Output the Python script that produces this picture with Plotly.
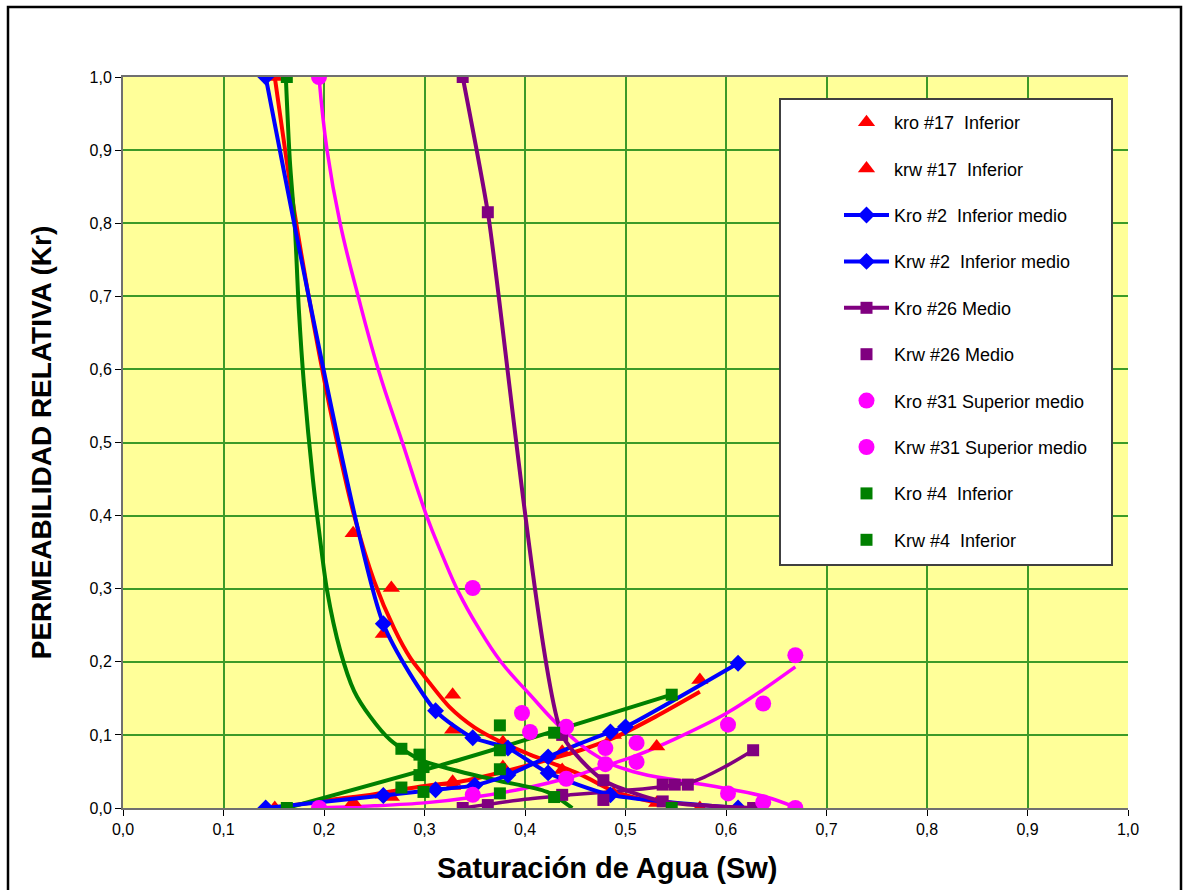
import plotly.graph_objects as go

# ---------------- data ----------------
# #17 Inferior (red triangles, markers only + trendlines)
kro17_sw = [0.151, 0.229, 0.259, 0.267, 0.328, 0.328, 0.378, 0.437, 0.488, 0.531, 0.574]
kro17_kr = [1.000, 0.376, 0.238, 0.301, 0.155, 0.107, 0.090, 0.052, 0.020, 0.007, 0.000]
krw17_sw = [0.151, 0.229, 0.259, 0.267, 0.328, 0.328, 0.378, 0.437, 0.488, 0.531, 0.574]
krw17_kr = [0.000, 0.008, 0.018, 0.015, 0.036, 0.030, 0.056, 0.077, 0.100, 0.084, 0.175]
kro17_fit_sw = [0.151, 0.17, 0.19, 0.21, 0.23, 0.25, 0.27, 0.286, 0.30, 0.325, 0.35, 0.378, 0.405, 0.455, 0.49, 0.531]
kro17_fit_kr = [1.000, 0.82, 0.66, 0.52, 0.40, 0.31, 0.245, 0.205, 0.18, 0.138, 0.11, 0.089, 0.073, 0.046, 0.022, 0.007]
krw17_fit_sw = [0.151, 0.20, 0.25, 0.30, 0.335, 0.38, 0.42, 0.455, 0.49, 0.53, 0.574]
krw17_fit_kr = [0.000, 0.010, 0.019, 0.030, 0.036, 0.050, 0.065, 0.079, 0.097, 0.125, 0.159]

# #2 Inferior medio (blue diamonds, smoothed lines)
kro2_sw = [0.142, 0.259, 0.311, 0.348, 0.383, 0.423, 0.485, 0.612]
kro2_kr = [1.000, 0.252, 0.133, 0.096, 0.082, 0.048, 0.018, 0.000]
krw2_sw = [0.142, 0.259, 0.311, 0.350, 0.383, 0.423, 0.485, 0.500, 0.612]
krw2_kr = [0.000, 0.017, 0.025, 0.031, 0.045, 0.070, 0.104, 0.111, 0.198]

# #26 Medio (purple squares)
kro26_sw = [0.338, 0.363, 0.437, 0.478, 0.537, 0.627]
kro26_kr = [1.000, 0.815, 0.100, 0.038, 0.009, 0.000]
krw26_sw = [0.338, 0.363, 0.437, 0.478, 0.537, 0.549, 0.562, 0.627]
krw26_kr = [0.000, 0.004, 0.018, 0.011, 0.032, 0.032, 0.032, 0.079]
krw26_fit_sw = [0.338, 0.40, 0.445, 0.50, 0.537, 0.571, 0.601, 0.627]
krw26_fit_kr = [0.000, 0.012, 0.018, 0.024, 0.029, 0.038, 0.058, 0.079]

# #31 Superior medio (magenta circles + trendlines)
kro31_sw = [0.195, 0.348, 0.397, 0.405, 0.441, 0.480, 0.511, 0.602, 0.637, 0.669]
kro31_kr = [1.000, 0.301, 0.130, 0.104, 0.111, 0.082, 0.063, 0.020, 0.008, 0.000]
krw31_sw = [0.195, 0.348, 0.441, 0.480, 0.511, 0.602, 0.637, 0.669]
krw31_kr = [0.000, 0.018, 0.040, 0.060, 0.089, 0.114, 0.143, 0.209]
kro31_fit_sw = [0.195, 0.203, 0.216, 0.234, 0.254, 0.278, 0.302, 0.318, 0.334, 0.353, 0.376, 0.405, 0.435, 0.475, 0.507, 0.561, 0.607, 0.640, 0.667]
kro31_fit_kr = [1.000, 0.900, 0.800, 0.700, 0.600, 0.500, 0.400, 0.345, 0.295, 0.248, 0.200, 0.155, 0.111, 0.068, 0.050, 0.036, 0.025, 0.015, 0.002]
krw31_fit_sw = [0.195, 0.25, 0.30, 0.35, 0.40, 0.445, 0.485, 0.511, 0.55, 0.601, 0.635, 0.669]
krw31_fit_kr = [0.000, 0.003, 0.007, 0.015, 0.027, 0.042, 0.060, 0.072, 0.095, 0.130, 0.160, 0.193]

# #4 Inferior (green squares + trendlines)
kro4_sw = [0.163, 0.277, 0.295, 0.299, 0.375, 0.375, 0.429, 0.546]
kro4_kr = [1.000, 0.081, 0.073, 0.056, 0.113, 0.053, 0.015, 0.000]
krw4_sw = [0.163, 0.277, 0.295, 0.299, 0.375, 0.375, 0.429, 0.546]
krw4_kr = [0.000, 0.028, 0.045, 0.022, 0.079, 0.020, 0.103, 0.155]
kro4_fit_sw = [0.162, 0.166, 0.171, 0.175, 0.180, 0.189, 0.195, 0.203, 0.216, 0.230, 0.246, 0.266, 0.296, 0.335, 0.375, 0.422, 0.447]
kro4_fit_kr = [1.000, 0.886, 0.795, 0.681, 0.580, 0.449, 0.380, 0.298, 0.216, 0.160, 0.125, 0.093, 0.066, 0.050, 0.037, 0.022, 0.000]
krw4_fit_sw = [0.163, 0.335, 0.546]
krw4_fit_kr = [0.000, 0.066, 0.155]

x_ticks = [0.0, 0.1, 0.2, 0.3, 0.4, 0.5, 0.6, 0.7, 0.8, 0.9, 1.0]
y_ticks = [0.0, 0.1, 0.2, 0.3, 0.4, 0.5, 0.6, 0.7, 0.8, 0.9, 1.0]

x_title = "Saturación de Agua (Sw)"
y_title = "PERMEABILIDAD RELATIVA (Kr)"

RED = "#FF0000"
BLUE = "#0000FF"
PURPLE = "#800080"
MAGENTA = "#FF00FF"
GREEN = "#008000"
NB = "\u00a0"

fig = go.Figure()

def fit(sw, kr, color, width=4, smoothing=0.8):
    fig.add_trace(go.Scatter(x=sw, y=kr, mode="lines", showlegend=False, hoverinfo="skip",
                             line=dict(color=color, width=width, shape="spline", smoothing=smoothing)))

# trendlines (not in legend)
fit(kro17_fit_sw, kro17_fit_kr, RED)
fit(krw17_fit_sw, krw17_fit_kr, RED)
fit(kro31_fit_sw, kro31_fit_kr, MAGENTA, 3.5, 1.2)
fit(krw31_fit_sw, krw31_fit_kr, MAGENTA, 3.5)
fit(krw26_fit_sw, krw26_fit_kr, PURPLE, 3.5)
fit(kro4_fit_sw, kro4_fit_kr, GREEN)
fit(krw4_fit_sw, krw4_fit_kr, GREEN)

def series(sw, kr, name, color, symbol, size, lines=False, group=""):
    fig.add_trace(go.Scatter(
        x=sw, y=kr, name=name, legendgroup=group,
        mode="lines+markers" if lines else "markers",
        line=dict(color=color, width=4, shape="spline", smoothing=0.6),
        marker=dict(color=color, symbol=symbol, size=size, line=dict(width=0)),
    ))

series(kro17_sw, kro17_kr, f"kro #17{NB}{NB}Inferior", RED, "triangle-up", 15, group="g1")
series(krw17_sw, krw17_kr, f"krw #17{NB}{NB}Inferior", RED, "triangle-up", 15, group="g2")
series(kro2_sw, kro2_kr, f"Kro #2{NB}{NB}Inferior medio", BLUE, "diamond", 13, True, "g3")
series(krw2_sw, krw2_kr, f"Krw #2{NB}{NB}Inferior medio", BLUE, "diamond", 13, True, "g4")
series(kro26_sw, kro26_kr, f"Kro #26{NB}Medio", PURPLE, "square", 12, True, "g5")
series(krw26_sw, krw26_kr, f"Krw #26{NB}Medio", PURPLE, "square", 12, group="g6")
series(kro31_sw, kro31_kr, f"Kro #31{NB}Superior medio", MAGENTA, "circle", 16, group="g7")
series(krw31_sw, krw31_kr, f"Krw #31{NB}Superior medio", MAGENTA, "circle", 16, group="g8")
series(kro4_sw, kro4_kr, f"Kro #4{NB}{NB}Inferior", GREEN, "square", 12, group="g9")
series(krw4_sw, krw4_kr, f"Krw #4{NB}{NB}Inferior", GREEN, "square", 12, group="g10")

# geometry helpers (pixel -> paper)
L, R, T, B = 123, 1128, 77, 808
def px(xp):
    return (xp - L) / (R - L)
def py(yp):
    return (B - yp) / (B - T)

fig.update_layout(
    width=1187, height=890,
    margin=dict(l=L, r=1187 - R, t=T, b=890 - B, pad=0),
    paper_bgcolor="white",
    plot_bgcolor="#FFFF99",
    separators=",.",
    font=dict(family="Liberation Sans, Arial, sans-serif", color="black"),
    showlegend=True,
    legend=dict(
        x=px(839), y=py(104), xanchor="left", yanchor="top",
        bgcolor="rgba(0,0,0,0)", borderwidth=0,
        font=dict(size=18, family="Liberation Sans, Arial, sans-serif"),
        tracegroupgap=20, itemwidth=45,
    ),
    shapes=[
        # legend box
        dict(type="rect", xref="paper", yref="paper", layer="above",
             x0=px(780), x1=px(1112), y0=py(565), y1=py(99),
             fillcolor="white", line=dict(color="#404040", width=2)),
        # outer frame
        dict(type="rect", xref="paper", yref="paper", layer="above",
             x0=px(8), x1=px(1181), y0=py(900), y1=py(7),
             fillcolor="rgba(0,0,0,0)", line=dict(color="black", width=2.5)),
    ],
    annotations=[
        dict(text=f"<b>{x_title}</b>", xref="paper", yref="paper",
             x=px(607), y=py(868), xanchor="center", yanchor="middle", showarrow=False,
             font=dict(size=29, family="Liberation Sans, Arial, sans-serif")),
    ],
)

fig.update_xaxes(
    range=[0, 1], tickvals=x_ticks, tickformat=".1f",
    showgrid=True, gridcolor="#3C9A28", gridwidth=1.5,
    zeroline=False, showline=True, linecolor="#707070", linewidth=2, mirror=True,
    ticks="outside", ticklen=6, tickcolor="black", tickwidth=1,
    tickfont=dict(size=16, family="Liberation Sans Narrow, Arial Narrow, Liberation Sans, sans-serif"),
)
fig.update_yaxes(
    range=[0, 1], tickvals=y_ticks, tickformat=".1f",
    showgrid=True, gridcolor="#3C9A28", gridwidth=1.5,
    zeroline=False, showline=True, linecolor="#707070", linewidth=2,
    ticks="outside", ticklen=6, tickcolor="black", tickwidth=1,
    tickfont=dict(size=16, family="Liberation Sans Narrow, Arial Narrow, Liberation Sans, sans-serif"),
    title=dict(text=f"<b>{y_title}</b>", font=dict(size=28, family="Liberation Sans, Arial, sans-serif"), standoff=30),
)

fig.write_html("out.html")
